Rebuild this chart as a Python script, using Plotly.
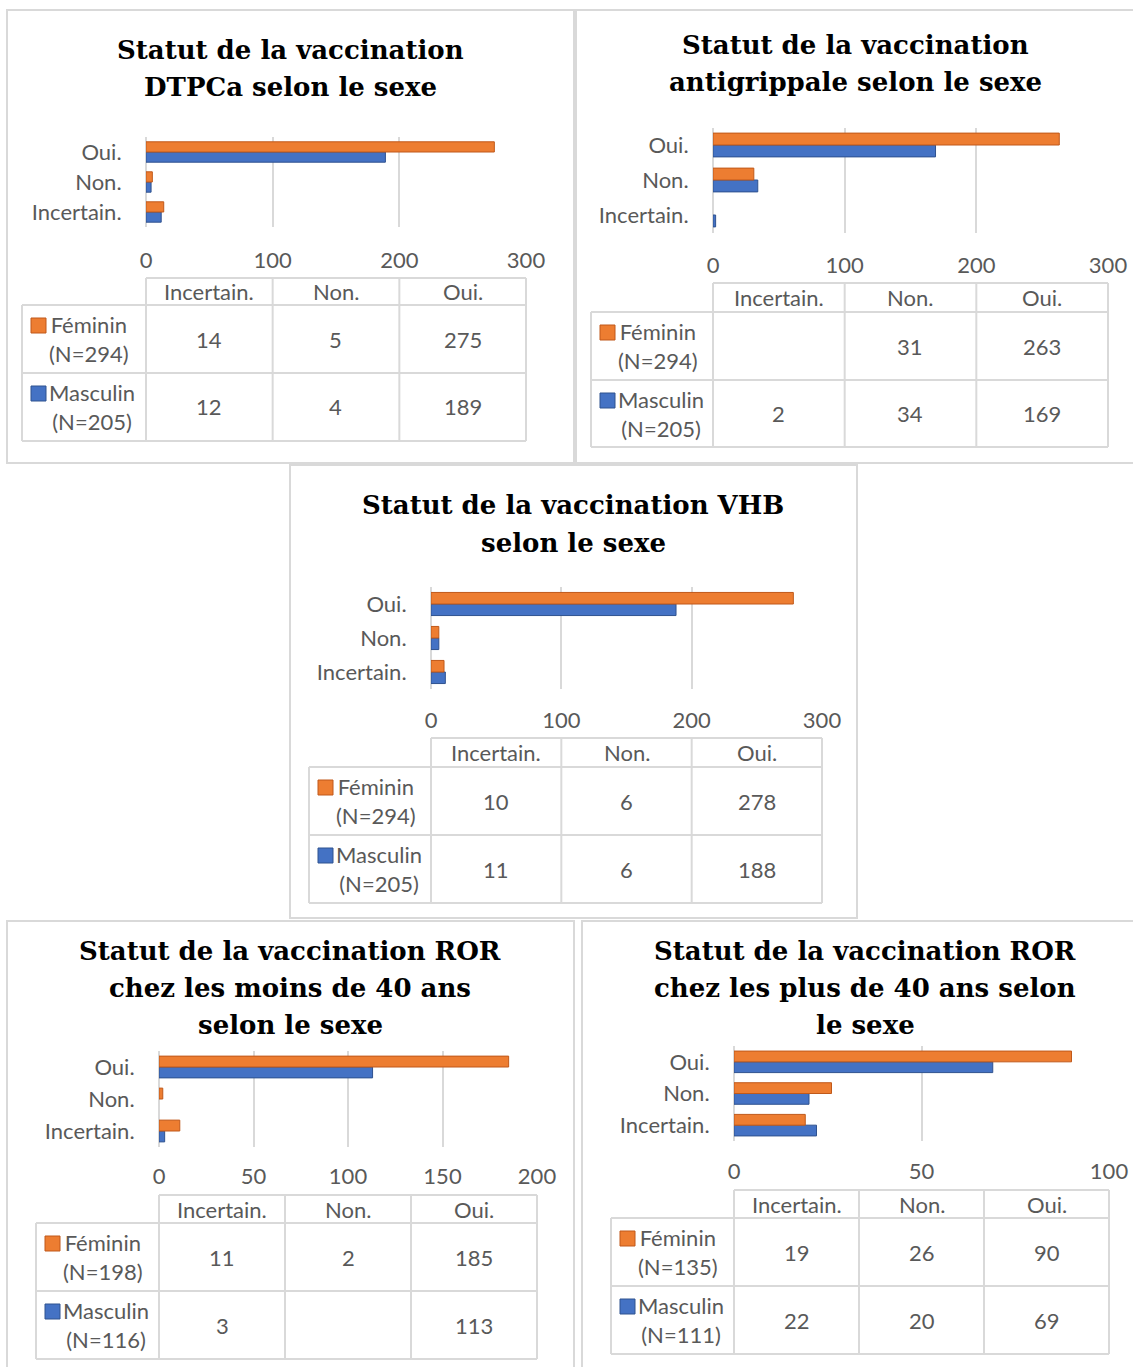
import plotly.graph_objects as go

W, H = 1133, 1367

# ---------------- data ----------------
categories = ["Incertain.", "Non.", "Oui."]
sexes = ["Féminin", "Masculin"]

titles = [
    ["Statut de la vaccination", "DTPCa selon le sexe"],
    ["Statut de la vaccination", "antigrippale selon le sexe"],
    ["Statut de la vaccination VHB", "selon le sexe"],
    ["Statut de la vaccination ROR", "chez les moins de 40 ans", "selon le sexe"],
    ["Statut de la vaccination ROR", "chez les plus de 40 ans selon", "le sexe"],
]

dtpca_fem = [14, 5, 275]
dtpca_masc = [12, 4, 189]
grippe_fem = [None, 31, 263]
grippe_masc = [2, 34, 169]
vhb_fem = [10, 6, 278]
vhb_masc = [11, 6, 188]
ror_moins40_fem = [11, 2, 185]
ror_moins40_masc = [3, None, 113]
ror_plus40_fem = [19, 26, 90]
ror_plus40_masc = [22, 20, 69]

fem_values = [dtpca_fem, grippe_fem, vhb_fem, ror_moins40_fem, ror_plus40_fem]
masc_values = [dtpca_masc, grippe_masc, vhb_masc, ror_moins40_masc, ror_plus40_masc]
fem_n = [294, 294, 294, 198, 135]
masc_n = [205, 205, 205, 116, 111]
x_max = [300, 300, 300, 200, 100]
x_step = [100, 100, 100, 50, 50]

# ---------------- layout geometry (pixels) ----------------
geom = [
    dict(box=(7, 10, 574, 463), plot=(146, 137, 526, 227), title_y=[50, 87], cx=290,
         table=(22, 278, 305, 373, 441), tl=14),
    dict(box=(576, 10, 1140, 463), plot=(713, 127.5, 1108, 232.5), title_y=[45, 82], cx=855,
         table=(591, 283, 312, 380, 447), tl=13),
    dict(box=(290, 465, 857, 918), plot=(431, 587, 822, 689), title_y=[505, 543], cx=573,
         table=(309, 738, 767, 835, 903), tl=12),
    dict(box=(7, 921, 574, 1372), plot=(159, 1051, 537, 1147), title_y=[951, 988, 1025], cx=290,
         table=(36, 1195, 1223, 1291, 1359), tl=10),
    dict(box=(582, 921, 1140, 1372), plot=(734, 1046, 1109, 1141), title_y=[951, 988, 1025], cx=865,
         table=(611, 1190, 1218, 1286, 1354), tl=11),
]

ORANGE, ORANGE_LINE = "#ED7D31", "#C0591A"
BLUE, BLUE_LINE = "#4472C4", "#2F528F"
GRID = "#D9D9D9"
TXT = "#595959"
SANS = "Lato"
SERIF = "DejaVu Serif"
FS = 22


def px(x):
    return x / W


def py(y):
    return 1 - y / H


fig = go.Figure()
shapes = []
annotations = []
layout_axes = {}

for i, g in enumerate(geom):
    k = "" if i == 0 else str(i + 1)
    xa, ya = "x" + k, "y" + k
    x0, y0, x1, y1 = g["plot"]

    # bars: Masculin first (lower in group), Féminin second (upper)
    fig.add_trace(go.Bar(y=categories, x=masc_values[i], orientation="h", name=sexes[1],
                         marker=dict(color=BLUE, line=dict(color=BLUE_LINE, width=1)),
                         xaxis=xa, yaxis=ya, showlegend=False))
    fig.add_trace(go.Bar(y=categories, x=fem_values[i], orientation="h", name=sexes[0],
                         marker=dict(color=ORANGE, line=dict(color=ORANGE_LINE, width=1)),
                         xaxis=xa, yaxis=ya, showlegend=False))

    layout_axes["xaxis" + k] = dict(
        domain=[px(x0), px(x1)], range=[0, x_max[i]], anchor=ya, automargin=False,
        tickvals=list(range(0, x_max[i] + 1, x_step[i])),
        showgrid=True, gridcolor=GRID, gridwidth=2,
        zeroline=True, zerolinecolor=GRID, zerolinewidth=2, showline=False,
        ticks="outside", ticklen=g["tl"], tickcolor="rgba(0,0,0,0)",
        tickfont=dict(family=SANS, size=FS, color=TXT), fixedrange=True)
    layout_axes["yaxis" + k] = dict(
        domain=[py(y1), py(y0)], range=[-0.5, 2.5], anchor=xa, automargin=False,
        type="category", categoryorder="array", categoryarray=categories,
        showgrid=False, zeroline=False, showline=False,
        ticks="outside", ticklen=19, tickcolor="rgba(0,0,0,0)",
        tickfont=dict(family=SANS, size=FS, color=TXT), fixedrange=True)

    # panel border
    bx0, by0, bx1, by1 = g["box"]
    shapes.append(dict(type="rect", xref="paper", yref="paper",
                       x0=px(bx0), x1=px(bx1), y0=py(by1), y1=py(by0),
                       line=dict(color=GRID, width=2), layer="below"))

    # title
    for line, ty in zip(titles[i], g["title_y"]):
        annotations.append(dict(text=line, x=px(g["cx"]), y=py(ty), xref="paper", yref="paper",
                                xanchor="center", yanchor="middle", showarrow=False,
                                font=dict(family=SERIF, size=26, color="black", weight="bold")))

    # data table
    left, htop, hbot, rmid, bot = g["table"]
    cols = [x0 + j * (x1 - x0) / 3 for j in range(4)]

    def hline(y, xa_, xb_):
        shapes.append(dict(type="line", xref="paper", yref="paper", x0=px(xa_), x1=px(xb_),
                           y0=py(y), y1=py(y), line=dict(color=GRID, width=2)))

    def vline(x, ya_, yb_):
        shapes.append(dict(type="line", xref="paper", yref="paper", x0=px(x), x1=px(x),
                           y0=py(ya_), y1=py(yb_), line=dict(color=GRID, width=2)))

    hline(htop, cols[0], cols[3])
    for yy in (hbot, rmid, bot):
        hline(yy, left, cols[3])
    vline(left, hbot, bot)
    for c in cols:
        vline(c, htop, bot)

    for j, cat in enumerate(categories):
        cxm = (cols[j] + cols[j + 1]) / 2
        annotations.append(dict(text=cat, x=px(cxm), y=py((htop + hbot) / 2), xref="paper",
                                yref="paper", xanchor="center", yanchor="middle", showarrow=False,
                                font=dict(family=SANS, size=FS, color=TXT)))
        for vals, (rt, rb) in ((fem_values[i], (hbot, rmid)), (masc_values[i], (rmid, bot))):
            v = vals[j]
            annotations.append(dict(text="" if v is None else str(v), x=px(cxm),
                                    y=py((rt + rb) / 2), xref="paper", yref="paper",
                                    xanchor="center", yanchor="middle", showarrow=False,
                                    font=dict(family=SANS, size=FS, color=TXT)))

    for sex, n, color, lc, (rt, rb) in (
            (sexes[0], fem_n[i], ORANGE, ORANGE_LINE, (hbot, rmid)),
            (sexes[1], masc_n[i], BLUE, BLUE_LINE, (rmid, bot))):
        shapes.append(dict(type="rect", xref="paper", yref="paper",
                           x0=px(left + 9), x1=px(left + 24), y0=py(rt + 28), y1=py(rt + 13),
                           fillcolor=color, line=dict(color=lc, width=1)))
        annotations.append(dict(text=f"{sex}<br>(N={n})", x=px(left + 25), y=py((rt + rb) / 2),
                                xref="paper", yref="paper", xanchor="left", yanchor="middle",
                                align="center", showarrow=False,
                                font=dict(family=SANS, size=FS, color=TXT)))

fig.update_layout(
    width=W, height=H, autosize=False, margin=dict(l=0, r=0, t=0, b=0, pad=0),
    paper_bgcolor="white", plot_bgcolor="white",
    barmode="group", bargap=0.32, bargroupgap=0,
    shapes=shapes, annotations=annotations, showlegend=False,
    **layout_axes)

fig.write_html("out.html",
               config={"responsive": False, "displayModeBar": False},
               post_script="document.body.style.margin='0';document.body.style.overflow='hidden';")
